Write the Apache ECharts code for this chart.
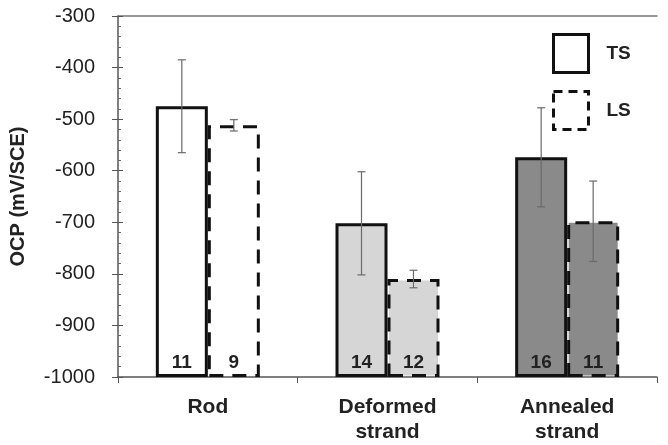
<!DOCTYPE html>
<html>
<head>
<meta charset="utf-8">
<script src="https://cdn.jsdelivr.net/npm/echarts@6/dist/echarts.min.js"></script>
<style>
  html, body { margin: 0; padding: 0; background: #fff; }
  #chart { width: 668px; height: 445px; }
</style>
</head>
<body>
<div id="chart"></div>
<script>
  // data
  const categories = ["Rod", "Deformed\nstrand", "Annealed\nstrand"];
  const tsValues = [-475, -702, -574];
  const tsErrors = [90, 100, 96];
  const lsValues = [-512, -810, -698];
  const lsErrors = [11, 17, 78];
  const tsCounts = [11, 14, 16];
  const lsCounts = [9, 12, 11];
  const fills = ["#ffffff", "#d6d6d6", "#8a8a8a"];

  const FONT = "Liberation Sans, Arial, sans-serif";
  const BAR_W = 52;
  const chart = echarts.init(document.getElementById("chart"));

  // error bar drawn through the axes; offset puts it over the TS or LS bar
  const errorSeries = (values, errors, side) => ({
    type: "custom",
    xAxisIndex: 0,
    yAxisIndex: 0,
    z: 5,
    silent: true,
    data: values.map((v, i) => [i, v - errors[i], v + errors[i]]),
    renderItem: (params, api) => {
      const lo = api.coord([api.value(0), api.value(1)]);
      const hi = api.coord([api.value(0), api.value(2)]);
      const x = lo[0] + side * BAR_W / 2;
      const cap = 4;
      const style = { stroke: "#6a6a6a", lineWidth: 1.2 };
      return {
        type: "group",
        children: [
          { type: "line", shape: { x1: x, y1: lo[1], x2: x, y2: hi[1] }, style },
          { type: "line", shape: { x1: x - cap, y1: lo[1], x2: x + cap, y2: lo[1] }, style },
          { type: "line", shape: { x1: x - cap, y1: hi[1], x2: x + cap, y2: hi[1] }, style }
        ]
      };
    }
  });

  const countLabel = (counts) => ({
    show: true,
    position: "insideBottom",
    distance: 5,
    formatter: (p) => String(counts[p.dataIndex]),
    color: "#222",
    fontSize: 19,
    fontWeight: "bold",
    fontFamily: FONT
  });

  const option = {
    animation: false,
    backgroundColor: "#fff",
    grid: { left: 115, right: 11, top: 16, bottom: 65 },
    legend: {
      orient: "vertical",
      left: 552,
      top: 33,
      padding: 0,
      itemWidth: 35,
      itemHeight: 38,
      itemGap: 16,
      icon: "rect",
      textStyle: {
        fontSize: 19,
        fontWeight: "bold",
        color: "#222",
        fontFamily: FONT,
        padding: [0, 0, 0, 13]
      },
      data: [
        { name: "TS", itemStyle: { color: "#fff", borderColor: "#111", borderWidth: 3, borderType: "solid" } },
        { name: "LS", itemStyle: { color: "#fff", borderColor: "#111", borderWidth: 3, borderType: [9, 6] } }
      ]
    },
    xAxis: [
      {
        type: "category",
        data: categories,
        axisLine: { lineStyle: { color: "#555", width: 1.5 } },
        axisTick: { show: true, length: 6, lineStyle: { color: "#555" } },
        axisLabel: {
          margin: 18,
          fontSize: 21,
          fontWeight: "bold",
          lineHeight: 25,
          color: "#222",
          fontFamily: FONT
        }
      },
      {
        type: "category",
        position: "top",
        data: categories,
        axisLine: { lineStyle: { color: "#777", width: 1.5 } },
        axisTick: { show: false },
        axisLabel: { show: false }
      }
    ],
    yAxis: [
      {
        type: "value",
        min: -1000,
        max: -300,
        startValue: -1000,
        interval: 100,
        name: "OCP (mV/SCE)",
        nameLocation: "middle",
        nameRotate: 90,
        nameGap: 90,
        nameTextStyle: {
          fontSize: 20,
          fontWeight: "bold",
          color: "#222",
          fontFamily: FONT
        },
        axisLine: { show: true, lineStyle: { color: "#555", width: 1.5 } },
        axisTick: { show: true, length: 6, lineStyle: { color: "#555" } },
        axisLabel: {
          margin: 23,
          fontSize: 20,
          color: "#222",
          fontFamily: FONT,
          formatter: (v) => String(v)
        },
        splitLine: { show: false }
      },
      {
        type: "value",
        position: "left",
        offset: 0,
        min: -1000,
        max: -300,
        interval: 100,
        axisLine: { show: false },
        axisTick: { show: true, inside: true, length: 5, lineStyle: { color: "#555" } },
        minorTick: { show: true, splitNumber: 5, length: 3, lineStyle: { color: "#666" } },
        axisLabel: { show: false },
        splitLine: { show: false }
      }
    ],
    series: [
      {
        name: "TS",
        type: "bar",
        barWidth: BAR_W,
        barGap: "0%",
        z: 2,
        itemStyle: { color: "#fff", borderColor: "#111", borderWidth: 3 },
        data: tsValues.map((v, i) => ({ value: v, itemStyle: { color: fills[i] } })),
        label: countLabel(tsCounts)
      },
      {
        name: "LS",
        type: "bar",
        barWidth: BAR_W,
        barGap: "0%",
        z: 3,
        itemStyle: { color: "#fff", borderColor: "#111", borderWidth: 3, borderType: [14, 9] },
        data: lsValues.map((v, i) => ({ value: v, itemStyle: { color: fills[i] } })),
        label: countLabel(lsCounts)
      },
      errorSeries(tsValues, tsErrors, -1),
      errorSeries(lsValues, lsErrors, 1)
    ]
  };

  chart.setOption(option);
</script>
</body>
</html>
